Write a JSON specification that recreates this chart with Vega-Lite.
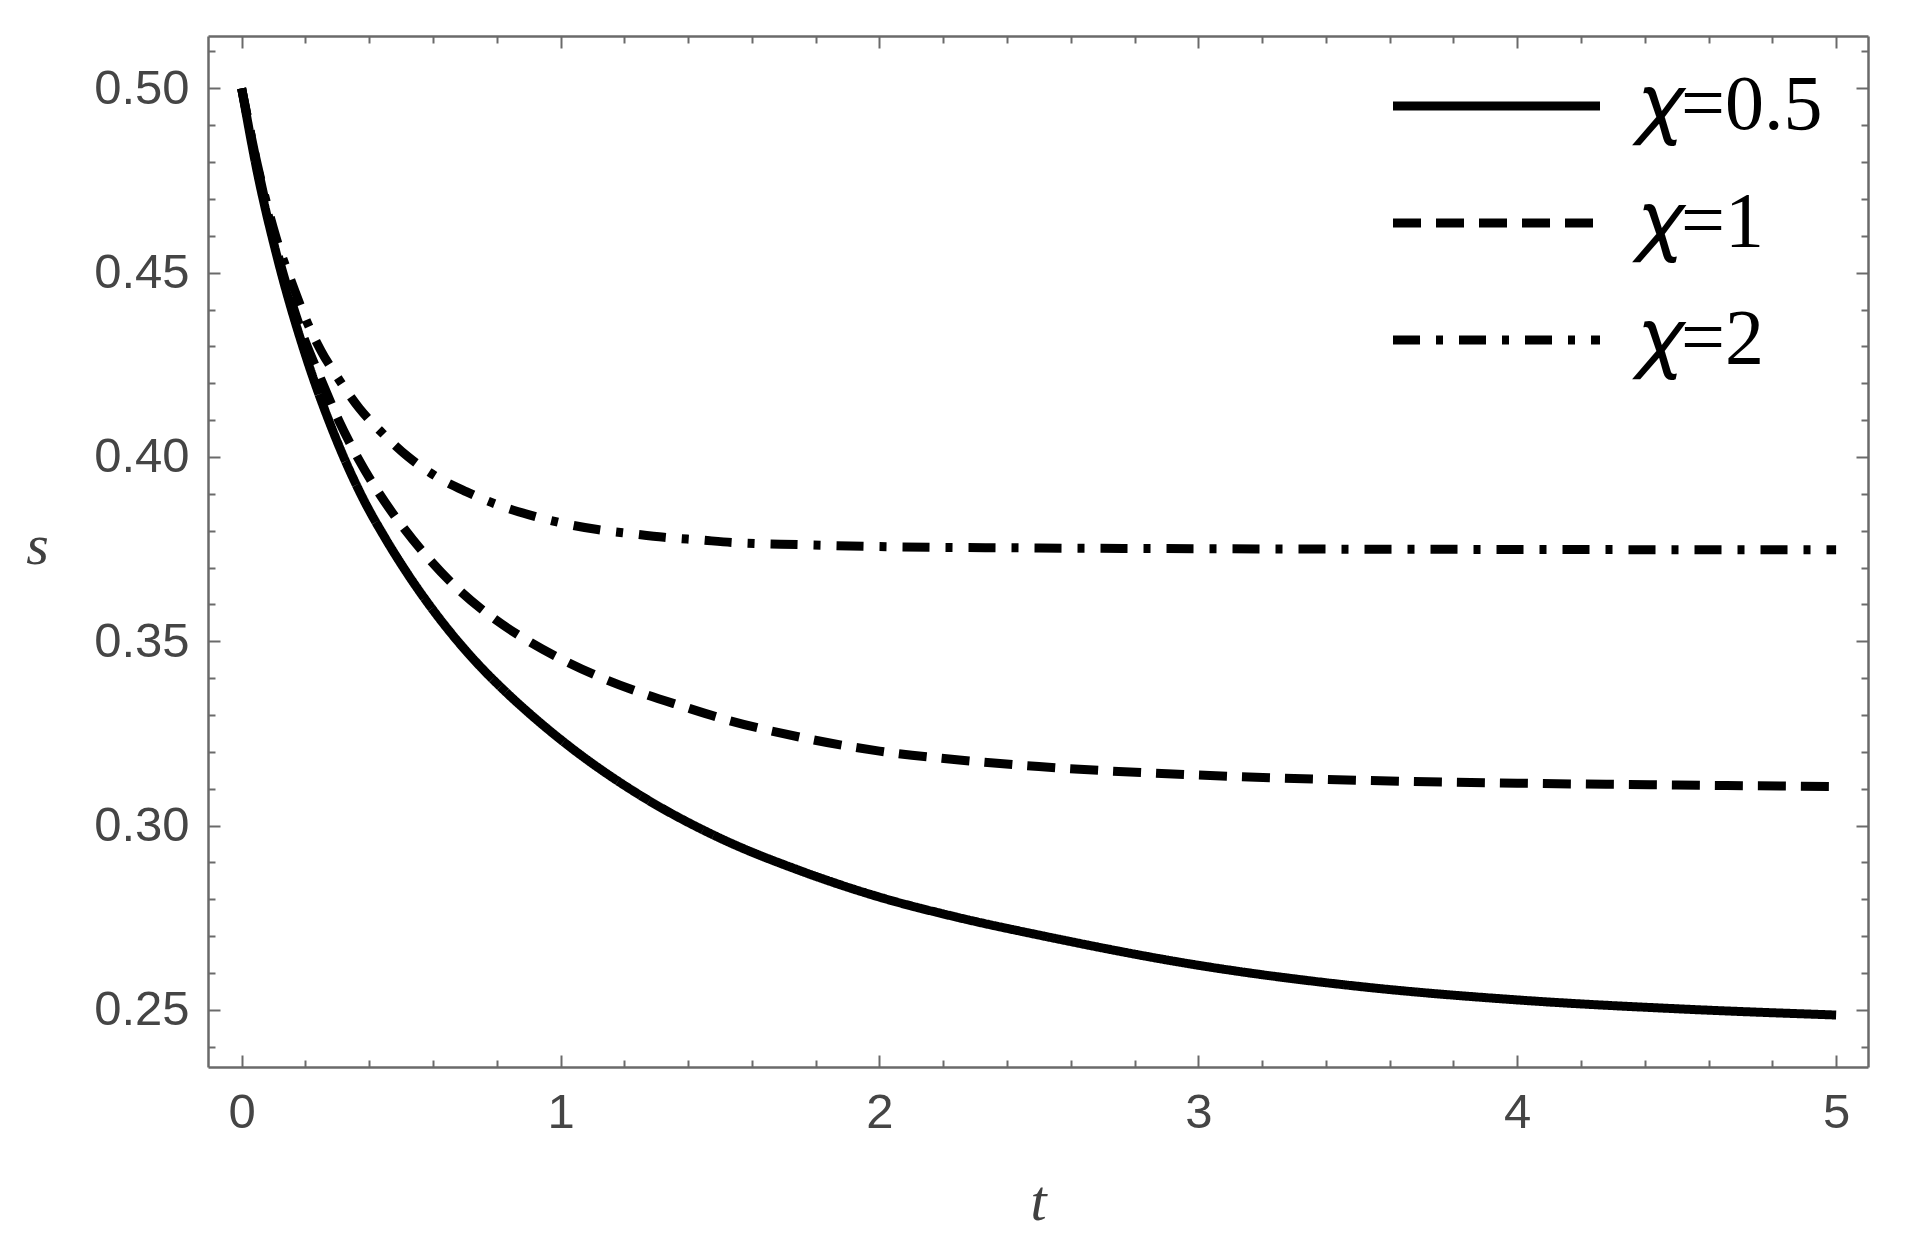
{
  "$schema": "https://vega.github.io/schema/vega-lite/v6.json",
  "width": 1660,
  "height": 1031,
  "autosize": {"type": "none"},
  "padding": {"left": 208, "top": 36, "right": 38, "bottom": 184},
  "background": "white",
  "config": {
    "view": {"stroke": null},
    "axis": {
      "grid": false,
      "domainColor": "#6a6a6a",
      "domainWidth": 2.5,
      "tickColor": "#6a6a6a",
      "tickWidth": 2,
      "labelFont": "Liberation Sans",
      "labelFontSize": 49,
      "labelColor": "#454545",
      "titleFont": "Liberation Serif",
      "titleFontStyle": "italic",
      "titleFontWeight": "normal",
      "titleFontSize": 58,
      "titleColor": "#404040"
    }
  },
  "datasets": {
    "curves": [
      {"t": 0, "s": 0.5, "chi": "0.5"},
      {"t": 0.05, "s": 0.4769, "chi": "0.5"},
      {"t": 0.108, "s": 0.4554, "chi": "0.5"},
      {"t": 0.202, "s": 0.4272, "chi": "0.5"},
      {"t": 0.285, "s": 0.4073, "chi": "0.5"},
      {"t": 0.379, "s": 0.389, "chi": "0.5"},
      {"t": 0.45, "s": 0.378, "chi": "0.5"},
      {"t": 0.515, "s": 0.369, "chi": "0.5"},
      {"t": 0.6, "s": 0.3585, "chi": "0.5"},
      {"t": 0.672, "s": 0.3506, "chi": "0.5"},
      {"t": 0.75, "s": 0.343, "chi": "0.5"},
      {"t": 0.829, "s": 0.3362, "chi": "0.5"},
      {"t": 0.92, "s": 0.3291, "chi": "0.5"},
      {"t": 1.017, "s": 0.3222, "chi": "0.5"},
      {"t": 1.25, "s": 0.3082, "chi": "0.5"},
      {"t": 1.5, "s": 0.2966, "chi": "0.5"},
      {"t": 1.75, "s": 0.2878, "chi": "0.5"},
      {"t": 2, "s": 0.2806, "chi": "0.5"},
      {"t": 2.25, "s": 0.275, "chi": "0.5"},
      {"t": 2.5, "s": 0.2703, "chi": "0.5"},
      {"t": 3, "s": 0.2621, "chi": "0.5"},
      {"t": 3.5, "s": 0.2564, "chi": "0.5"},
      {"t": 4, "s": 0.2527, "chi": "0.5"},
      {"t": 4.5, "s": 0.2503, "chi": "0.5"},
      {"t": 5, "s": 0.2486, "chi": "0.5"},
      {"t": 0, "s": 0.5, "chi": "1"},
      {"t": 0.05, "s": 0.4787, "chi": "1"},
      {"t": 0.108, "s": 0.4568, "chi": "1"},
      {"t": 0.17, "s": 0.4385, "chi": "1"},
      {"t": 0.252, "s": 0.4204, "chi": "1"},
      {"t": 0.304, "s": 0.41, "chi": "1"},
      {"t": 0.366, "s": 0.3995, "chi": "1"},
      {"t": 0.432, "s": 0.39, "chi": "1"},
      {"t": 0.51, "s": 0.3805, "chi": "1"},
      {"t": 0.594, "s": 0.3717, "chi": "1"},
      {"t": 0.688, "s": 0.3634, "chi": "1"},
      {"t": 0.792, "s": 0.3561, "chi": "1"},
      {"t": 0.9, "s": 0.35, "chi": "1"},
      {"t": 1.015, "s": 0.3446, "chi": "1"},
      {"t": 1.137, "s": 0.3398, "chi": "1"},
      {"t": 1.256, "s": 0.3359, "chi": "1"},
      {"t": 1.381, "s": 0.3324, "chi": "1"},
      {"t": 1.508, "s": 0.329, "chi": "1"},
      {"t": 1.75, "s": 0.324, "chi": "1"},
      {"t": 2, "s": 0.3202, "chi": "1"},
      {"t": 2.25, "s": 0.3178, "chi": "1"},
      {"t": 2.5, "s": 0.316, "chi": "1"},
      {"t": 3, "s": 0.3137, "chi": "1"},
      {"t": 3.5, "s": 0.3123, "chi": "1"},
      {"t": 4, "s": 0.3115, "chi": "1"},
      {"t": 4.5, "s": 0.311, "chi": "1"},
      {"t": 5, "s": 0.3106, "chi": "1"},
      {"t": 0, "s": 0.5, "chi": "2"},
      {"t": 0.05, "s": 0.479, "chi": "2"},
      {"t": 0.108, "s": 0.4595, "chi": "2"},
      {"t": 0.165, "s": 0.4455, "chi": "2"},
      {"t": 0.202, "s": 0.4372, "chi": "2"},
      {"t": 0.249, "s": 0.4288, "chi": "2"},
      {"t": 0.306, "s": 0.4209, "chi": "2"},
      {"t": 0.369, "s": 0.4132, "chi": "2"},
      {"t": 0.442, "s": 0.4064, "chi": "2"},
      {"t": 0.521, "s": 0.4001, "chi": "2"},
      {"t": 0.61, "s": 0.3947, "chi": "2"},
      {"t": 0.704, "s": 0.3906, "chi": "2"},
      {"t": 0.803, "s": 0.387, "chi": "2"},
      {"t": 0.902, "s": 0.3843, "chi": "2"},
      {"t": 1.007, "s": 0.382, "chi": "2"},
      {"t": 1.116, "s": 0.3803, "chi": "2"},
      {"t": 1.221, "s": 0.3792, "chi": "2"},
      {"t": 1.325, "s": 0.3782, "chi": "2"},
      {"t": 1.435, "s": 0.3775, "chi": "2"},
      {"t": 1.54, "s": 0.3768, "chi": "2"},
      {"t": 1.75, "s": 0.3762, "chi": "2"},
      {"t": 2, "s": 0.3757, "chi": "2"},
      {"t": 2.5, "s": 0.3753, "chi": "2"},
      {"t": 3, "s": 0.3751, "chi": "2"},
      {"t": 4, "s": 0.3749, "chi": "2"},
      {"t": 5, "s": 0.3748, "chi": "2"}
    ]
  },
  "layer": [
    {
      "data": {"name": "curves"},
      "mark": {"type": "line", "color": "black", "strokeWidth": 9, "strokeCap": "butt", "interpolate": "monotone"},
      "encoding": {
        "x": {
          "field": "t", "type": "quantitative",
          "scale": {"domain": [-0.1055, 5.1], "nice": false, "zero": false},
          "axis": {
            "orient": "bottom", "values": [0, 1, 2, 3, 4, 5], "format": "d",
            "tickSize": -12, "labelPadding": 33, "domain": true,
            "title": "t", "titleX": 830, "titleY": 152, "titleBaseline": "alphabetic", "titleAlign": "center", "titleAngle": 0
          }
        },
        "y": {
          "field": "s", "type": "quantitative",
          "scale": {"domain": [0.2345, 0.5142], "nice": false, "zero": false},
          "axis": {
            "orient": "left", "values": [0.25, 0.3, 0.35, 0.4, 0.45, 0.5], "format": ".2f",
            "tickSize": -12, "labelPadding": 31, "domain": true,
            "title": "s", "titleX": -171, "titleY": 527, "titleBaseline": "alphabetic", "titleAlign": "center", "titleAngle": 0
          }
        },
        "strokeDash": {
          "field": "chi", "type": "nominal",
          "scale": {"domain": ["0.5", "1", "2"], "range": [[1, 0], [28, 15], [27, 16, 7, 16]]},
          "legend": {
            "orient": "none", "legendX": 1229.5, "legendY": 11, "title": null,
            "padding": 0, "rowPadding": 19,
            "symbolType": "M-1.899,0H1.899", "symbolSize": 11881, "symbolStrokeWidth": 9,
            "symbolStrokeColor": "black", "symbolFillColor": "transparent", "symbolOpacity": 1,
            "labelFont": "Liberation Serif", "labelFontSize": 78, "labelColor": "black",
            "labelOffset": 81.5, "labelLimit": 0,
            "labelExpr": "'𝜒=' + datum.label",
            "encode": {"symbols": {"update": {"strokeDash": {"signal": "datum.value === '1' ? [24, 19] : datum.value === '2' ? [9, 19, 23, 17] : [1, 0]"}, "strokeCap": {"value": "butt"}}}}
          }
        }
      }
    },
    {
      "data": {"name": "curves"},
      "mark": {"type": "line", "opacity": 0},
      "encoding": {
        "x": {"field": "t", "type": "quantitative",
          "axis": {"orient": "bottom", "values": [0.2, 0.4, 0.6, 0.8, 1.2, 1.4, 1.6, 1.8, 2.2, 2.4, 2.6, 2.8, 3.2, 3.4, 3.6, 3.8, 4.2, 4.4, 4.6, 4.8], "labels": false, "domain": false, "tickSize": -7, "title": null}},
        "y": {"field": "s", "type": "quantitative",
          "axis": {"orient": "left", "values": [0.24, 0.26, 0.27, 0.28, 0.29, 0.31, 0.32, 0.33, 0.34, 0.36, 0.37, 0.38, 0.39, 0.41, 0.42, 0.43, 0.44, 0.46, 0.47, 0.48, 0.49, 0.51], "labels": false, "domain": false, "tickSize": -7, "title": null}},
        "detail": {"field": "chi"}
      }
    },
    {
      "data": {"name": "curves"},
      "mark": {"type": "line", "opacity": 0},
      "encoding": {
        "x": {"field": "t", "type": "quantitative",
          "axis": {"orient": "top", "values": [0, 1, 2, 3, 4, 5], "labels": false, "domain": true, "tickSize": -12, "title": null}},
        "y": {"field": "s", "type": "quantitative",
          "axis": {"orient": "right", "values": [0.25, 0.3, 0.35, 0.4, 0.45, 0.5], "labels": false, "domain": true, "tickSize": -12, "title": null}},
        "detail": {"field": "chi"}
      }
    },
    {
      "data": {"name": "curves"},
      "mark": {"type": "line", "opacity": 0},
      "encoding": {
        "x": {"field": "t", "type": "quantitative",
          "axis": {"orient": "top", "values": [0.2, 0.4, 0.6, 0.8, 1.2, 1.4, 1.6, 1.8, 2.2, 2.4, 2.6, 2.8, 3.2, 3.4, 3.6, 3.8, 4.2, 4.4, 4.6, 4.8], "labels": false, "domain": false, "tickSize": -7, "title": null}},
        "y": {"field": "s", "type": "quantitative",
          "axis": {"orient": "right", "values": [0.24, 0.26, 0.27, 0.28, 0.29, 0.31, 0.32, 0.33, 0.34, 0.36, 0.37, 0.38, 0.39, 0.41, 0.42, 0.43, 0.44, 0.46, 0.47, 0.48, 0.49, 0.51], "labels": false, "domain": false, "tickSize": -7, "title": null}},
        "detail": {"field": "chi"}
      }
    }
  ],
  "resolve": {"axis": {"x": "independent", "y": "independent"}}
}
